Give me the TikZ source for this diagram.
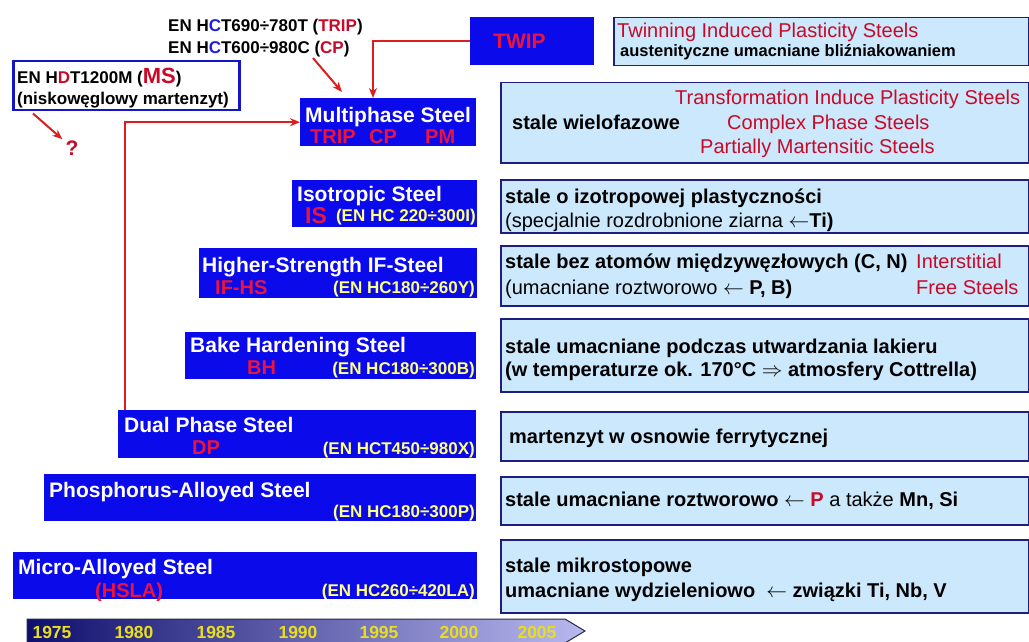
\documentclass[tikz,border=0pt]{standalone}
\usepackage{fontspec}
\setmainfont{Liberation Sans}
\usetikzlibrary{arrows.meta,calc}
\definecolor{boxblue}{RGB}{10,10,235}
\definecolor{descfill}{RGB}{204,232,252}
\definecolor{descdraw}{RGB}{30,30,130}
\definecolor{arrowred}{RGB}{220,30,30}
\definecolor{abbrred}{RGB}{235,20,60}
\definecolor{txtred}{RGB}{200,10,40}
\definecolor{codeyellow}{RGB}{255,255,130}
\definecolor{msblue}{RGB}{20,20,200}
\definecolor{hcblue}{RGB}{30,30,220}
\definecolor{yearyellow}{RGB}{232,222,30}
\definecolor{tlleft}{RGB}{15,15,110}
\definecolor{tlright}{RGB}{185,185,240}
\definecolor{tledge}{RGB}{40,40,70}
\newcommand\pxsize[1]{\fontsize{#1}{#1}\selectfont}
\begin{document}
\begin{tikzpicture}[x=1pt,y=-1pt,
  bluebox/.style={fill=boxblue,draw=none,anchor=north west,inner sep=0pt},
  descbox/.style={fill=descfill,draw=descdraw,line width=1.5pt,anchor=north west,inner sep=0pt},
  txt/.style={anchor=west,inner sep=0pt,text depth=0pt},
  title/.style={txt,text height=15.1pt,text=white,font=\bfseries\pxsize{21}},
  code/.style={txt,text height=12.2pt,anchor=east,text=codeyellow,font=\bfseries\pxsize{17}},
  abbr/.style={txt,text height=14.3pt,text=abbrred,font=\bfseries\pxsize{20}},
  desc/.style={txt,text height=14.3pt,text=black,font=\bfseries\pxsize{20}},
  descr/.style={txt,text height=14.3pt,text=black,font=\pxsize{20}},
  redtxt/.style={txt,text height=14.3pt,text=txtred,font=\pxsize{20}},
  entxt/.style={txt,text height=12.2pt,text=black,font=\bfseries\pxsize{17}},
  year/.style={anchor=center,inner sep=0pt,text height=12.6pt,text depth=0pt,text=yearyellow,font=\bfseries\pxsize{17.5}},
  redarrow/.style={draw=arrowred,line width=2pt,-{Stealth[length=10pt,width=8pt]}}
]
\useasboundingbox (0,0) rectangle (1029,642);

% ---- top annotations ----
\node[entxt] (en1) at (168,25) {EN H{\color{hcblue}C}T690÷780T ({\color{txtred}TRIP})};
\node[entxt] (en2) at (168,47) {EN H{\color{hcblue}C}T600÷980C ({\color{txtred}CP})};
\coordinate (cpfoot) at (313,58);

\node[fill=white,draw=msblue,line width=2.5pt,anchor=north west,inner sep=0pt,
      minimum width=226pt,minimum height=49pt] (ms) at (12,60) {};
\node[entxt] (ms1) at (17,77) {EN H{\color{txtred}D}T1200M ({\color{txtred}\pxsize{22}MS})};
\node[entxt] (ms2) at (17,98) {(niskowęglowy martenzyt)};
\node[anchor=center,inner sep=0pt,text height=15.1pt,text depth=0pt,text=txtred,
      font=\bfseries\pxsize{21}] (qm) at (72,148) {?};

% ---- TWIP ----
\node[bluebox,minimum width=124pt,minimum height=48pt] (twip) at (470,17) {};
\node[abbr,font=\bfseries\pxsize{21},text height=15.1pt] (twipl) at (493,41) {TWIP};
\node[descbox,minimum width=415pt,minimum height=48pt] (twipd) at (613,17) {};
\node[redtxt] (twipd1) at (617,30) {Twinning Induced Plasticity Steels};
\node[desc,text height=11.9pt,font=\bfseries\pxsize{16.5}] (twipd2) at (620,51) {austenityczne umacniane bliźniakowaniem};

% ---- Multiphase ----
\node[bluebox,minimum width=176pt,minimum height=48pt] (mp) at (300,98) {};
\node[title] (mpt) at (305,115) {Multiphase Steel};
\node[abbr] (mpa1) at (310,136) {TRIP};
\node[abbr] (mpa2) at (369,136) {CP};
\node[abbr] (mpa3) at (425,136) {PM};
\node[descbox,minimum width=528pt,minimum height=80pt] (mpd) at (500,82) {};
\node[desc] (mpd1) at (512,122) {stale wielofazowe};
\node[redtxt] (mpd2) at (675,97) {Transformation Induce Plasticity Steels};
\node[redtxt] (mpd3) at (727,122) {Complex Phase Steels};
\node[redtxt] (mpd4) at (700,146) {Partially Martensitic Steels};

% ---- Isotropic ----
\node[bluebox,minimum width=185pt,minimum height=47pt] (iso) at (292,180) {};
\node[title] (isot) at (297,194) {Isotropic Steel};
\node[abbr,text height=16.5pt,font=\bfseries\pxsize{23}] (isoa) at (305,215) {IS};
\node[code] (isoc) at (476,215) {(EN HC 220÷300I)};
\node[descbox,minimum width=528pt,minimum height=53pt] (isod) at (500,179) {};
\node[desc] (isod1) at (505,196) {stale o izotropowej plastyczności};
\node[descr] (isod2) at (505,220) {(specjalnie rozdrobnione ziarna $\leftarrow$\textbf{Ti)}};

% ---- IF-HS ----
\node[bluebox,minimum width=278pt,minimum height=50pt] (ifhs) at (199,248) {};
\node[title] (ifhst) at (202,265) {Higher-Strength IF-Steel};
\node[abbr] (ifhsa) at (215,287) {IF-HS};
\node[code] (ifhsc) at (475,287) {(EN HC180÷260Y)};
\node[descbox,minimum width=528pt,minimum height=60pt] (ifd) at (500,245) {};
\node[desc] (ifd1) at (505,261) {stale bez atomów międzywęzłowych (C, N)};
\node[descr] (ifd2) at (505,287) {(umacniane roztworowo $\leftarrow$ \textbf{P, B)}};
\node[redtxt] (ifd3) at (916,261) {Interstitial};
\node[redtxt] (ifd4) at (916,287) {Free Steels};

% ---- BH ----
\node[bluebox,minimum width=291pt,minimum height=47pt] (bh) at (185,332) {};
\node[title] (bht) at (190,345) {Bake Hardening Steel};
\node[abbr] (bha) at (247,367) {BH};
\node[code] (bhc) at (475,368) {(EN HC180÷300B)};
\node[descbox,minimum width=528pt,minimum height=73pt] (bhd) at (500,318) {};
\node[desc] (bhd1) at (505,346) {stale umacniane podczas utwardzania lakieru};
\node[desc] (bhd2) at (505,369) {(w temperaturze ok. 170°C $\Rightarrow$\ atmosfery Cottrella)};

% ---- DP ----
\node[bluebox,minimum width=358pt,minimum height=48pt] (dp) at (118,410) {};
\node[title] (dpt) at (124,425) {Dual Phase Steel};
\node[abbr] (dpa) at (192,447) {DP};
\node[code] (dpc) at (475,448) {(EN HCT450÷980X)};
\node[descbox,minimum width=528pt,minimum height=49pt] (dpd) at (500,411) {};
\node[desc] (dpd1) at (509,436) {martenzyt w osnowie ferrytycznej};

% ---- Phosphorus ----
\node[bluebox,minimum width=432pt,minimum height=47pt] (ph) at (44,474) {};
\node[title] (pht) at (49,490) {Phosphorus-Alloyed Steel};
\node[code] (phc) at (475,511) {(EN HC180÷300P)};
\node[descbox,minimum width=528pt,minimum height=48pt] (phd) at (500,476) {};
\node[desc] (phd1) at (505,499) {stale umacniane roztworowo $\leftarrow$ {\color{txtred}P} \mdseries a także \bfseries Mn, Si};

% ---- HSLA ----
\node[bluebox,minimum width=464pt,minimum height=47pt] (hsla) at (13,552) {};
\node[title] (hslat) at (18,567) {Micro-Alloyed Steel};
\node[abbr] (hslaa) at (95,590) {(HSLA)};
\node[code] (hslac) at (475,590) {(EN HC260÷420LA)};
\node[descbox,minimum width=528pt,minimum height=73pt] (hslad) at (500,539) {};
\node[desc] (hslad1) at (505,565) {stale mikrostopowe};
\node[desc] (hslad2) at (505,590) {umacniane wydzieleniowo \ $\leftarrow$ związki Ti, Nb, V};

% ---- timeline ----
\path[draw=tledge,line width=1pt,left color=tlleft,right color=tlright]
  (27,619) -- (565,619) -- (585,631) -- (565,643) -- (27,643) -- cycle;
\node[year] (y1975) at (52,632) {1975};
\node[year] (y1980) at (134,632) {1980};
\node[year] (y1985) at (216,632) {1985};
\node[year] (y1990) at (298,632) {1990};
\node[year] (y1995) at (379,632) {1995};
\node[year] (y2000) at (459,632) {2000};
\node[year] (y2005) at (537,632) {2005};

% ---- connectors ----
\draw[redarrow] (twip.west) -| ($(mp.north west)+(73,0)$);
\draw[redarrow] (cpfoot) -- ($(mp.north west)+(42,-6)$);
\draw[redarrow] ($(dp.north west)+(7,0)$) |- (mp.west);
\draw[redarrow] ($(ms.south west)+(21,2)$) -- ($(qm.north west)+(-3,-1)$);
\end{tikzpicture}
\end{document}
